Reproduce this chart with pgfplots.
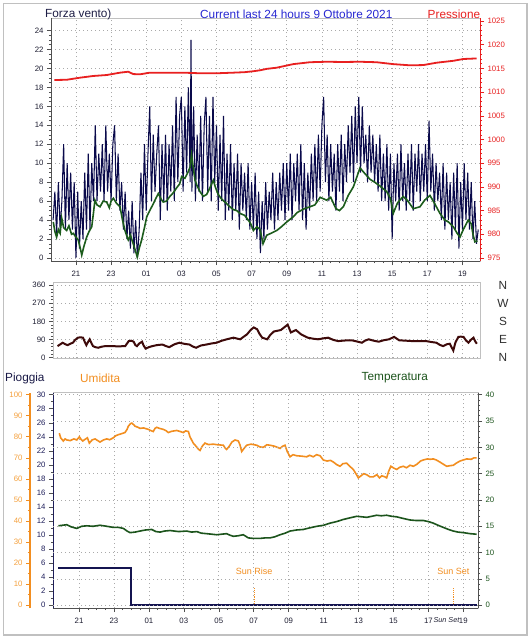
\documentclass[border=0pt]{standalone}
\usepackage{fontspec}
\setmainfont{Liberation Sans}
\usepackage{pgfplots}
\pgfplotsset{compat=1.18}
\usepackage{pgfplotstable}

\definecolor{navyw}{RGB}{10,10,75}
\definecolor{greenw}{RGB}{28,92,28}
\definecolor{presred}{RGB}{232,32,32}
\definecolor{dirc}{RGB}{62,10,10}
\definecolor{humc}{RGB}{242,142,32}
\definecolor{humlab}{RGB}{245,160,60}
\definecolor{tempc}{RGB}{28,84,28}
\definecolor{rainc}{RGB}{20,20,80}
\definecolor{navylab}{RGB}{30,30,90}
\definecolor{titleblue}{RGB}{40,40,210}
\definecolor{framec}{RGB}{192,192,192}
\definecolor{axc}{RGB}{80,80,80}
\definecolor{gridc}{RGB}{170,170,170}
\definecolor{labc}{RGB}{30,30,50}

\pgfplotsset{
  base/.style={
    scale only axis, clip=false,
    tick align=outside,
    major tick length=4pt, minor tick length=2.2pt,
    /pgf/number format/assume math mode=true,
    /pgf/number format/1000 sep={},
    scaled ticks=false,
    ticklabel style={font=\fontsize{7.8}{9}\selectfont, text=labc},
    xticklabel style={yshift=-2.5pt},
    axis line style={framec, line width=0.8pt},
    tick style={axc, line width=0.5pt},
    major grid style={gridc, line width=0.7pt, dash pattern=on 0.7pt off 3.3pt},
    xtick pos=left, ytick pos=left,
  }
}

\pgfplotstableread{
h v
19.7 4
19.8 7
19.9 2.5
20.0 8
20.1 3
20.2 6
20.3 12
20.4 3
20.5 10
20.6 4
20.7 9
20.8 3
20.9 8
21.0 0
21.1 7
21.2 1
21.3 6
21.4 2
21.5 9
21.6 3
21.7 11
21.8 3
21.9 10
22.0 6
22.1 14
22.2 6
22.3 11
22.4 7
22.5 12
22.6 6
22.7 14
22.8 7
22.9 11
23.0 6
23.1 12
23.2 14
23.3 6
23.4 11
23.5 5
23.6 8
23.7 3
23.8 7
23.9 2
24.0 5
24.1 1
24.2 6
24.3 0.5
24.4 4
24.5 0
24.6 3
24.7 9
24.8 4
24.9 12
25.0 5
25.1 11
25.2 16
25.3 6
25.4 13
25.5 7
25.6 11
25.7 14
25.8 4
25.9 12
26.0 6
26.1 13
26.2 5
26.3 12
26.4 7
26.5 14
26.6 6
26.7 17
26.8 8
26.9 15
27.0 17
27.1 7
27.2 16
27.3 9
27.4 18
27.5 8
27.55 23
27.6 7
27.7 16
27.8 6
27.9 13
28.0 7
28.1 15
28.2 6
28.3 14
28.4 17
28.5 7
28.6 15
28.7 6
28.8 17
28.9 8
29.0 14
29.1 5
29.2 13
29.3 6
29.4 15
29.5 4
29.6 11
29.7 5
29.8 12
29.9 4
30.0 10
30.1 5
30.2 11
30.3 3
30.4 10
30.5 5
30.6 9
30.7 4
30.8 10
30.9 3
31.0 8
31.1 3
31.2 9
31.3 2
31.4 7
31.5 0.5
31.6 6
31.7 2
31.8 8
31.9 3
32.0 7
32.1 4
32.2 9
32.3 3
32.4 8
32.5 4
32.6 9
32.7 5
32.8 10
32.9 4
33.0 10
33.1 5
33.2 11
33.3 4
33.4 10
33.5 6
33.6 11
33.7 5
33.8 12
33.9 4
34.0 10
34.1 3
34.2 9
34.3 5
34.4 11
34.5 6
34.6 12
34.7 6
34.8 13
34.9 7
35.0 14
35.1 17
35.2 8
35.3 13
35.4 6
35.5 12
35.6 7
35.7 11
35.8 5
35.9 12
36.0 7
36.1 13
36.2 6
36.3 12
36.4 8
36.5 14
36.6 9
36.7 15
36.8 8
36.9 16
37.0 10
37.1 17
37.2 9
37.3 16
37.4 10
37.5 13
37.6 8
37.7 14
37.8 9
37.9 13
38.0 8
38.1 12
38.2 7
38.3 13
38.4 6
38.5 11
38.6 6
38.7 12
38.8 5
38.9 11
39.0 2
39.1 10
39.2 6
39.3 11
39.4 5
39.5 12
39.6 6
39.7 10
39.8 5
39.9 11
40.0 6
40.1 12
40.2 5
40.3 11
40.4 7
40.5 12
40.6 6
40.7 11
40.8 7
40.9 12
41.0 6
41.1 14.5
41.2 7
41.3 11
41.4 5
41.5 10
41.6 6
41.7 9
41.8 4
41.9 10
42.0 3
42.1 9
42.2 4
42.3 8
42.4 2
42.5 9
42.6 3
42.7 10
42.8 1
42.9 8
43.0 3
43.1 10
43.2 4
43.3 9
43.4 3
43.5 8
43.6 2
43.7 6
43.8 1.5
43.9 3
}\gusttab

\pgfplotstableread{
h v
19.71 3.8
19.8 2.8
19.9 2.2
20.0 3.0
20.1 2.6
20.19 4.2
20.3 3.2
20.47 2.9
20.6 3.4
20.75 2.5
20.85 2.6
21.0 2.2
21.13 1.9
21.25 1.0
21.33 0.3
21.45 1.2
21.61 2.2
21.75 2.8
21.9 3.3
22.0 4.8
22.08 6.1
22.2 5.6
22.37 5.4
22.55 6.0
22.75 5.9
22.9 5.3
23.0 6.0
23.13 6.3
23.3 5.8
23.51 5.4
23.65 4.0
23.79 2.9
23.9 2.3
23.98 1.9
24.1 2.4
24.26 1.5
24.38 0.8
24.49 0.1
24.6 1.0
24.74 1.9
24.9 3.2
25.03 4.35
25.2 5.0
25.4 5.7
25.55 6.3
25.69 6.8
25.85 6.2
25.97 5.9
26.15 6.0
26.35 6.5
26.55 6.9
26.73 7.4
26.9 7.8
27.02 8.6
27.2 8.4
27.39 9.1
27.5 9.6
27.58 10.9
27.68 9.5
27.78 8.2
27.9 7.6
28.06 7.0
28.25 6.5
28.44 6.7
28.6 7.3
28.82 8.2
28.95 7.4
29.1 6.7
29.3 6.2
29.48 5.9
29.7 5.5
29.96 5.1
30.15 5.0
30.34 4.7
30.6 4.5
30.81 4.0
30.95 3.6
31.1 2.9
31.3 3.3
31.48 3.0
31.65 1.5
31.86 2.4
32.1 2.6
32.43 2.9
32.7 3.3
33.0 3.8
33.37 4.35
33.6 4.8
34.0 5.2
34.32 5.4
34.6 5.6
34.9 6.4
35.27 6.1
35.5 6.4
35.8 5.2
36.0 5.0
36.22 5.4
36.5 6.6
36.79 7.5
37.0 8.6
37.17 9.5
37.4 9.0
37.74 8.3
38.0 8.0
38.3 7.6
38.69 7.0
38.9 6.3
39.06 4.7
39.3 5.8
39.63 6.5
39.9 6.0
40.2 5.2
40.58 5.4
40.85 6.1
41.15 6.6
41.4 5.8
41.72 4.7
42.0 4.0
42.2 3.8
42.48 3.3
42.7 2.6
42.86 2.2
43.05 3.0
43.33 4.0
43.5 3.6
43.6 2.5
43.71 1.7
43.85 1.8
}\avgtab

\pgfplotstableread{
h p
19.77 1012.55
20.47 1012.6
21.23 1013.04
21.99 1013.4
22.75 1013.6
23.51 1014.1
23.98 1014.3
24.26 1013.8
24.65 1013.75
25.21 1014.1
26.17 1014.1
27.11 1014.1
28.06 1013.97
29.01 1013.97
29.96 1014.1
30.6 1014.2
31.1 1014.4
31.48 1014.6
31.86 1014.9
32.43 1015.15
33.37 1015.9
34.32 1016.3
35.27 1016.4
36.22 1016.35
37.17 1016.4
38.11 1016.3
39.06 1015.9
40.01 1015.65
40.77 1015.7
41.53 1016.2
42.48 1016.6
43.05 1016.98
43.81 1017.1
}\prestab

\pgfplotstableread{
h d
19.95 57
20.1 66
20.24 74
20.4 66
20.53 62
20.7 70
20.82 74
20.95 88
21.11 99
21.25 101
21.4 99
21.5 78
21.59 62
21.7 80
21.78 91
21.9 68
21.97 57
22.1 52
22.26 49
22.45 54
22.65 57
23.03 57
23.4 56
23.8 57
24.0 82
24.15 84
24.28 79
24.38 62
24.47 57
24.6 70
24.76 79
24.85 60
24.96 45
25.15 52
25.34 57
25.6 62
25.92 65
26.1 58
26.31 52
26.6 66
26.88 74
27.2 68
27.46 65
27.65 55
27.84 49
28.1 60
28.42 65
28.7 70
29.0 74
29.3 84
29.58 91
29.96 99
30.15 95
30.35 91
30.55 104
30.74 116
30.95 138
31.12 150
31.31 141
31.45 118
31.6 99
31.89 91
32.05 112
32.27 130
32.66 137
32.85 150
33.05 164
33.23 125
33.52 137
33.81 116
34.2 99
34.5 94
34.78 91
35.1 96
35.36 99
35.65 88
35.93 82
36.3 85
36.7 86
37.0 80
37.28 74
37.45 84
37.66 91
37.95 84
38.24 79
38.5 86
38.82 91
39.11 103
39.4 86
39.8 84
40.17 82
40.55 82
40.94 82
41.2 78
41.52 74
41.7 64
41.9 57
42.1 66
42.28 69
42.38 52
42.48 35
42.6 75
42.77 103
42.9 104
43.06 103
43.2 86
43.34 74
43.5 90
43.63 99
43.72 82
43.82 69
}\dirtab

\pgfplotstableread{
h v
19.87 81.7
19.95 79.5
20.10 78
20.20 79
20.30 78.5
20.50 78.2
20.70 79
20.87 78.5
21.02 80
21.10 79
21.21 78
21.35 78.8
21.48 79.5
21.59 77
21.75 78.5
21.92 79
22.05 78.3
22.20 77.5
22.40 78.5
22.59 79
22.75 78.6
22.96 79.5
23.10 80.5
23.25 81
23.45 81.5
23.63 82
23.75 83.5
23.82 85
23.95 86.3
24.02 86.5
24.12 85.8
24.21 85
24.35 84.6
24.49 84
24.70 84.2
24.97 83.5
25.10 83
25.25 82.5
25.35 84
25.45 84.5
25.60 84
25.83 83.5
26.00 82.8
26.11 82
26.30 82.6
26.59 83
26.80 82.5
26.97 82
27.10 82.8
27.26 82.5
27.35 80
27.54 77
27.70 75.5
27.85 74
27.93 73.5
28.05 75.5
28.21 77
28.40 76.3
28.69 76.5
28.95 76.2
29.26 76
29.38 74.5
29.45 74
29.60 75.5
29.75 77.5
29.93 78.5
30.12 78
30.22 76
30.31 73
30.45 74.5
30.60 76
30.85 76.5
31.17 76
31.35 75.2
31.55 75
31.75 76.2
31.93 76
32.20 75.5
32.51 74.5
32.65 75.5
32.79 76
32.92 73
33.08 70.5
33.25 71.5
33.46 71
33.75 70.8
34.03 70.5
34.20 71.2
34.41 70.5
34.60 71.5
34.80 71
34.98 69
35.20 68.5
35.40 68.8
35.56 68
35.75 66.8
35.94 66
36.10 67.2
36.32 67.5
36.50 66
36.70 64.5
36.85 62.5
36.99 60.5
37.15 61.5
37.30 62.5
37.47 62
37.65 61
37.85 61
38.05 62
38.20 60.5
38.33 61.5
38.50 61
38.61 60.5
38.72 63.5
38.85 66
39.05 65
39.19 64.5
39.35 65.5
39.56 66
39.75 65.3
39.95 66.5
40.14 66
40.35 67
40.55 68.5
40.71 69
40.95 69.5
41.10 69.3
41.28 69.5
41.45 69
41.66 68
41.85 67
42.05 66
42.25 66.3
42.43 66.5
42.60 67.5
42.81 68.5
43.00 69
43.19 69.5
43.45 69.3
43.60 70
43.76 70
}\humtab

\pgfplotstableread{
h t
19.82 15.1
20.05 15.2
20.30 15.3
20.55 14.9
20.87 14.6
21.15 15.0
21.44 15.1
21.80 15.0
22.20 15.2
22.60 15.0
22.96 14.8
23.25 14.8
23.54 14.6
23.75 14.1
23.92 13.8
24.20 13.9
24.49 14.1
24.80 14.3
25.16 14.4
25.40 14.0
25.64 13.9
25.90 14.1
26.21 14.2
26.70 14.0
27.16 14.1
27.45 13.9
27.74 14.0
28.00 13.7
28.31 13.6
28.60 13.5
28.88 13.4
29.15 13.5
29.45 13.6
29.65 13.3
29.83 13.1
30.10 13.2
30.40 13.4
30.55 13.1
30.69 12.8
31.00 12.7
31.36 12.7
31.65 12.8
31.93 12.8
32.20 13.0
32.51 13.4
32.80 13.7
33.08 14.1
33.45 14.3
33.84 14.4
34.20 14.7
34.61 15.0
35.00 15.2
35.37 15.6
35.75 15.9
36.13 16.3
36.50 16.6
36.90 16.9
37.20 16.8
37.47 16.7
37.75 16.9
38.04 17.1
38.30 17.0
38.61 17.1
38.90 16.9
39.19 16.8
39.55 16.5
39.95 16.2
40.30 16.1
40.71 16.1
41.00 15.9
41.28 15.6
41.55 15.2
41.85 14.8
42.15 14.4
42.43 14.1
42.70 13.9
43.00 13.8
43.40 13.6
43.76 13.5
}\temptab

\begin{document}
\begin{tikzpicture}
\path[use as bounding box] (0,0) rectangle (531pt,-640pt);
\fill[white] (0,0) rectangle (531pt,-640pt);
\draw[framec, line width=1.3pt] (3.5pt,-3.5pt) rectangle (527pt,-635pt);

% ---------- top panel: wind ----------
\begin{axis}[base, at={(51pt,-261pt)}, anchor=south west, width=429pt, height=243pt,
  xmin=19.58, xmax=44.0, ymin=-0.32, ymax=25.32,
  xtick={21,23,...,43}, xticklabels={21,23,01,03,05,07,09,11,13,15,17,19},
  minor x tick num=3,
  ytick={0,2,...,24}, minor y tick num=3,
  grid=major]
\draw[axc, line width=0.8pt] (rel axis cs:0,1) -- (rel axis cs:0,0) -- (rel axis cs:1,0);
\addplot[navyw, line width=1.05pt, line join=bevel] table {\gusttab};
\addplot[greenw, line width=1.6pt] table {\avgtab};
\end{axis}

% ---------- top panel: pressure ----------
\begin{axis}[base, at={(51pt,-261pt)}, anchor=south west, width=429pt, height=243pt,
  xmin=19.58, xmax=44.0, ymin=974.37, ymax=1025.63,
  hide x axis, ytick pos=right, y axis line style={draw=none},
  ytick={975,980,...,1025}, minor y tick num=4,
  tick style={presred, line width=0.5pt},
  yticklabel style={text=presred}]
\draw[presred, line width=0.9pt] (rel axis cs:1,0) -- (rel axis cs:1,1);
\addplot[presred, line width=1.8pt] table {\prestab};
\end{axis}

% ---------- middle panel: direction ----------
\begin{axis}[base, at={(53pt,-358pt)}, anchor=south west, width=427pt, height=75.3pt,
  xmin=19.69, xmax=44.0, ymin=-2, ymax=372.4,
  xtick={21,23,...,43}, xticklabels={}, xmajorticks=false,
  ytick={0,90,...,360}, minor y tick num=4,
  grid=major]
\addplot[dirc, line width=2pt] table {\dirtab};
\end{axis}
\foreach \l/\yy in {N/285.2, W/303.3, S/321.4, E/339.5, N/357.6}
  \node[text={rgb,255:red,48;green,48;blue,48}, font=\fontsize{11.8}{13}\selectfont, inner sep=0pt] at (503pt,-\yy pt) {\l};

% ---------- bottom panel: rain (navy scale) ----------
\begin{axis}[base, at={(53pt,-608pt)}, anchor=south west, width=425pt, height=215.3pt,
  xmin=19.51, xmax=43.84, ymin=-0.385, ymax=30.28,
  xtick={21,23,...,43}, xticklabels={21,23,01,03,05,07,09,11,13,15,17,19},
  minor x tick num=3, xmajorgrids=true,
  ytick={0,2,...,30}, minor y tick num=1,
  yticklabel style={text=navylab}]
\draw[navylab, line width=0.8pt] (rel axis cs:0,1) -- (rel axis cs:0,0);
\draw[axc, line width=0.8pt] (rel axis cs:0,0) -- (rel axis cs:1,0);
\addplot[humc, densely dotted, line width=0.8pt] coordinates {(31.03,0) (31.03,2.4)};
\addplot[humc, densely dotted, line width=0.8pt] coordinates {(42.43,0) (42.43,2.4)};
\node[text=humc, font=\fontsize{9}{10}\selectfont] at (axis cs:31.03,4.8) {Sun Rise};
\node[text=humc, font=\fontsize{9}{10}\selectfont] at (axis cs:42.43,4.8) {Sun Set};
\node[text=labc, font=\itshape\fontsize{7.2}{9}\selectfont, anchor=east, inner sep=0pt] at (axis cs:42.78,-2.05) {Sun Set};
\addplot[const plot, rainc, line width=1.8pt] coordinates {(19.80,5.3) (23.96,0) (43.76,0)};
\end{axis}

% ---------- bottom panel: humidity ----------
\begin{axis}[base, at={(53pt,-608pt)}, anchor=south west, width=425pt, height=215.3pt,
  xmin=19.51, xmax=43.84, ymin=-1.283, ymax=100.93, hide axis]
\addplot[humc, line width=1.6pt] table {\humtab};
\end{axis}

% ---------- orange humidity scale ----------
\begin{axis}[base, at={(30pt,-608pt)}, anchor=south west, width=1pt, height=215.3pt,
  xmin=0, xmax=1, ymin=-1.283, ymax=100.93,
  hide x axis, y axis line style={draw=none},
  ytick={0,10,...,100}, minor y tick num=1,
  tick style={humc, line width=0.6pt},
  yticklabel style={text=humlab}]
\draw[humc, line width=1.8pt] (rel axis cs:0,0) -- (rel axis cs:0,1);
\end{axis}

% ---------- bottom panel: temperature ----------
\begin{axis}[base, at={(53pt,-608pt)}, anchor=south west, width=425pt, height=215.3pt,
  xmin=19.51, xmax=43.84, ymin=-0.513, ymax=40.37,
  hide x axis, ytick pos=right, y axis line style={draw=none},
  ytick={0,5,...,40}, minor y tick num=4, ymajorgrids=true,
  yticklabel style={text=tempc}]
\draw[axc, line width=0.8pt] (rel axis cs:1,0) -- (rel axis cs:1,1);
\addplot[tempc, line width=1.6pt] table {\temptab};
\end{axis}

% ---------- titles ----------
\begin{scope}[every node/.style={inner sep=0pt, anchor=west, font=\fontsize{11.8}{14}\selectfont}]
\node[text={rgb,255:red,30;green,30;blue,70}] at (45pt,-14pt) {Forza vento)};
\node[text=titleblue] at (200pt,-14pt) {Current last 24 hours 9 Ottobre 2021};
\node[text=presred] at (427.5pt,-14pt) {Pressione};
\node[text={rgb,255:red,25;green,25;blue,70}] at (5pt,-378pt) {Pioggia};
\node[text=humc] at (80pt,-378pt) {Umidita};
\node[text=tempc] at (361.5pt,-377.5pt) {Temperatura};
\end{scope}
\end{tikzpicture}
\end{document}
